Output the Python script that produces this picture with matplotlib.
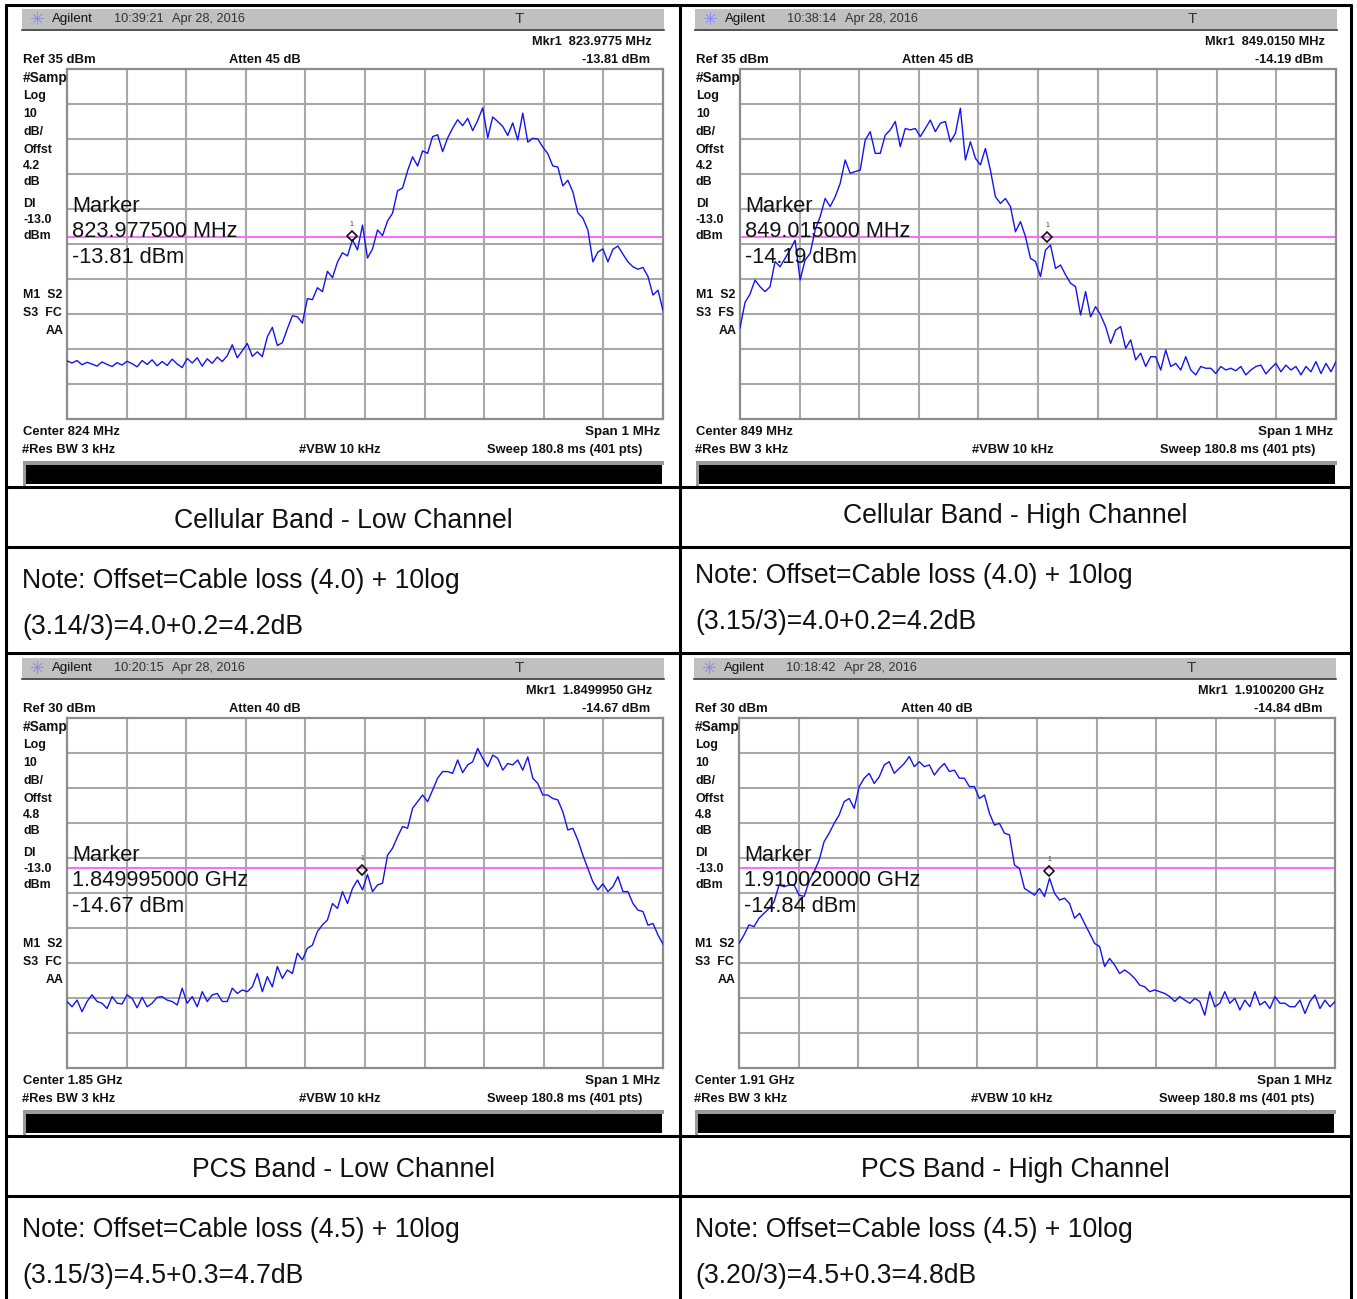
import numpy as np
import matplotlib
matplotlib.use('Agg')
import matplotlib.pyplot as plt
from matplotlib.patches import Rectangle
from matplotlib.transforms import ScaledTranslation

W, H = 1357, 1299
plt.rcParams['font.family'] = ['Liberation Sans', 'DejaVu Sans']

# traces in dBm, evenly spread across the 1 MHz span
trace_cell_low = [
    -48.4, -49.0, -48.3, -49.5, -48.8, -49.3, -49.9, -48.7, -49.4, -50.0,
    -48.9, -49.6, -48.5, -49.2, -50.1, -48.3, -49.4, -48.1, -49.8, -48.6,
    -49.7, -47.9, -49.3, -50.3, -47.7, -49.0, -47.5, -49.9, -47.8, -49.1,
    -47.3, -48.6, -46.9, -43.8, -47.5, -45.5, -43.4, -47.1, -45.8, -47.2,
    -41.5, -38.8, -44.0, -43.2, -39.2, -35.5, -35.8, -37.6, -30.6, -30.9,
    -27.5, -28.6, -22.8, -24.6, -20.2, -17.5, -18.4, -13.8, -16.7, -9.6,
    -19.0, -16.4, -11.0, -12.6, -8.4, -6.2, 0.2, 1.0, 5.9, 9.9,
    7.3, 11.6, 10.9, 15.7, 16.2, 11.4, 15.3, 18.1, 20.5, 18.8,
    20.9, 17.4, 20.3, 23.9, 15.3, 21.3, 20.0, 18.6, 16.0, 19.6,
    14.7, 22.4, 14.1, 15.2, 15.0, 12.7, 10.8, 7.3, 7.0, 1.6,
    3.2, -0.1, -6.1, -7.6, -11.0, -20.1, -17.3, -16.4, -20.1, -16.5,
    -15.6, -17.9, -20.1, -21.5, -22.2, -21.7, -24.3, -29.6, -28.2, -34.0,
]
trace_cell_high = [
    -39.0, -31.7, -29.3, -25.3, -27.2, -28.6, -27.2, -20.0, -21.5, -19.1,
    -16.7, -13.9, -25.3, -19.6, -17.7, -11.0, -7.2, -2.0, -4.3, -1.5,
    2.3, 9.0, 5.2, 5.7, 6.1, 14.7, 17.1, 10.9, 10.9, 16.1,
    17.6, 20.0, 12.8, 18.0, 17.6, 18.0, 15.7, 18.0, 20.4, 17.1,
    19.5, 20.0, 14.2, 16.6, 23.8, 9.0, 14.2, 9.5, 7.6, 12.3,
    6.1, -1.5, -3.4, -2.0, -4.3, -11.5, -8.6, -12.9, -19.1, -20.0,
    -24.3, -16.7, -15.3, -22.0, -21.0, -23.8, -26.2, -27.2, -35.3, -28.6,
    -35.8, -32.9, -35.3, -38.6, -43.4, -39.6, -38.6, -44.8, -42.4, -48.1,
    -46.2, -50.0, -47.2, -47.2, -51.0, -45.3, -50.0, -49.1, -51.0, -47.2,
    -51.0, -52.4, -50.0, -50.5, -50.5, -52.0, -50.0, -51.0, -50.5, -51.2,
    -50.0, -52.4, -51.0, -50.0, -49.6, -52.1, -50.5, -49.1, -51.5, -49.6,
    -51.0, -50.0, -52.4, -50.0, -51.5, -48.6, -52.0, -49.1, -51.5, -48.6,
]
trace_pcs_low = [
    -51.0, -52.5, -50.6, -53.9, -51.0, -49.1, -51.0, -51.5, -53.0, -49.6,
    -51.5, -51.7, -49.1, -50.1, -52.8, -49.8, -52.5, -51.5, -49.8, -49.6,
    -50.6, -51.0, -52.0, -47.2, -51.5, -49.6, -52.5, -48.2, -51.0, -49.1,
    -48.7, -51.0, -51.0, -47.2, -48.7, -47.7, -48.2, -46.8, -43.0, -48.2,
    -43.9, -46.8, -41.0, -44.4, -42.0, -43.0, -37.2, -39.1, -35.8, -34.9,
    -31.0, -29.1, -27.7, -23.0, -24.4, -19.6, -23.0, -18.7, -16.3, -19.1,
    -14.7, -19.6, -17.7, -17.2, -9.2, -7.2, -3.9, -1.0, -1.5, 4.2,
    6.1, 8.0, 6.1, 9.4, 12.8, 14.7, 14.7, 14.2, 18.0, 14.4,
    16.6, 17.5, 21.3, 18.5, 16.1, 19.4, 18.5, 15.1, 17.0, 16.6,
    18.0, 15.1, 18.9, 12.8, 11.3, 8.0, 8.0, 7.0, 6.6, 3.2,
    -2.0, -1.5, -4.9, -9.2, -13.0, -16.8, -19.1, -17.4, -19.6, -18.2,
    -15.3, -19.6, -19.6, -23.0, -24.9, -25.3, -29.2, -28.7, -32.0, -34.6,
]
trace_pcs_high = [
    -34.4, -32.0, -29.1, -29.6, -27.2, -25.8, -24.4, -22.5, -17.7, -18.2,
    -17.7, -17.7, -20.6, -21.0, -16.7, -13.9, -10.6, -5.3, -2.9, -0.1,
    2.3, 6.1, 7.0, 4.2, 10.4, 12.8, 14.2, 11.3, 13.2, 16.6,
    17.5, 14.2, 15.6, 17.0, 19.0, 16.1, 17.5, 16.1, 16.6, 13.7,
    15.6, 17.0, 14.7, 15.1, 12.8, 12.8, 10.4, 10.4, 7.0, 8.0,
    2.8, -0.6, -0.1, -2.9, -3.4, -12.0, -13.0, -18.7, -19.6, -20.6,
    -18.7, -21.0, -15.8, -20.1, -22.0, -21.5, -23.0, -27.2, -25.8, -28.7,
    -31.5, -34.4, -35.3, -41.0, -38.7, -40.6, -43.0, -42.0, -43.0, -44.4,
    -46.3, -46.8, -48.2, -47.7, -48.2, -48.7, -49.6, -51.0, -49.6, -50.6,
    -51.5, -50.1, -51.0, -54.9, -48.2, -52.5, -51.5, -48.2, -51.5, -50.1,
    -53.4, -50.6, -52.5, -48.2, -52.0, -51.0, -53.0, -49.6, -51.5, -51.5,
    -52.5, -52.5, -50.6, -54.4, -51.0, -49.1, -53.0, -50.6, -52.5, -51.0,
]
traces = [trace_cell_low, trace_cell_high, trace_pcs_low, trace_pcs_high]

times = ['10:39:21', '10:38:14', '10:20:15', '10:18:42']
ref_levels = [35, 35, 30, 30]
attens = [45, 45, 40, 40]
offsets = ['4.2', '4.2', '4.8', '4.8']
coupling = ['FC', 'FS', 'FC', 'FC']
centers = ['824 MHz', '849 MHz', '1.85 GHz', '1.91 GHz']
mkr_freqs = ['823.9775 MHz', '849.0150 MHz', '1.8499950 GHz', '1.9100200 GHz']
mkr_long = ['823.977500 MHz', '849.015000 MHz', '1.849995000 GHz', '1.910020000 GHz']
mkr_offsets = [-0.0225, 0.015, -0.005, 0.02]
mkr_levels = [-13.81, -14.19, -14.67, -14.84]
display_line = -13.0
captions = ['Cellular Band - Low Channel', 'Cellular Band - High Channel',
            'PCS Band - Low Channel', 'PCS Band - High Channel']
notes_1 = ['Note: Offset=Cable loss (4.0) + 10log', 'Note: Offset=Cable loss (4.0) + 10log',
           'Note: Offset=Cable loss (4.5) + 10log', 'Note: Offset=Cable loss (4.5) + 10log']
notes_2 = ['(3.14/3)=4.0+0.2=4.2dB', '(3.15/3)=4.0+0.2=4.2dB',
           '(3.15/3)=4.5+0.3=4.7dB', '(3.20/3)=4.5+0.3=4.8dB']

# panel placement in pixels: x shift, y shift, caption centre/y, note x/y
dxs = [0, 673, 0, 672]
dys = [0, 0, 649, 649]
cap_pos = [(343, 521), (1015, 516), (343, 1170), (1015, 1170)]
note_pos = [(22, 581, 627), (695, 576, 622), (22, 1230, 1276), (695, 1230, 1276)]

fig = plt.figure(figsize=(W / 100, H / 100), dpi=100, facecolor='white')

# pixel overlay for the table rules and screen text
ov = fig.add_axes([0, 0, 1, 1], zorder=5)
ov.set_xlim(0, W)
ov.set_ylim(H, 0)
ov.axis('off')
ov.patch.set_alpha(0)


def small(x, y, s, ha='left', bold=True, color='#111111', size=9.3):
    ov.text(x, y + 1, s, ha=ha, va='center', fontsize=size, color=color,
            fontweight='bold' if bold else 'normal')


def draw_panel(i):
    dx, dy = dxs[i], dys[i]
    left, right = 67 + dx, 663 + dx
    top, bottom = 69 + dy, 419 + dy

    ax = fig.add_axes([left / W, 1 - bottom / H, (right - left) / W, (bottom - top) / H], zorder=2)
    ref = ref_levels[i]
    ax.set_xlim(-0.5, 0.5)
    ax.set_ylim(ref - 100, ref)
    ax.set_xticks(np.arange(-0.4, 0.41, 0.1))
    ax.set_yticks(np.arange(ref - 90, ref, 10))
    ax.tick_params(length=0, labelbottom=False, labelleft=False)
    ax.grid(True, color='#a8a8a8', lw=1.5)
    ax.set_axisbelow(True)
    for sp in ax.spines.values():
        sp.set_color('#8c8c8c')
        sp.set_linewidth(1.6)

    ax.axhline(display_line, color='#ff66ff', lw=1.4, zorder=2)
    y = traces[i]
    ax.plot(np.linspace(-0.5, 0.5, len(y)), y, color='#1414f0', lw=1.0, zorder=3)

    # the analyzer draws its diamond a few pixels above the reading
    lift = ax.transData + ScaledTranslation(0, 4 / 100, fig.dpi_scale_trans)
    ax.plot([mkr_offsets[i]], [mkr_levels[i]], marker='D', ms=5.5, mfc='none',
            mec='#111111', mew=1.2, zorder=4, transform=lift)
    ax.annotate('1', (mkr_offsets[i], mkr_levels[i]), xytext=(0, 10), textcoords='offset points',
                ha='center', fontsize=5, color='#444444')

    # header bar
    ov.add_patch(Rectangle((22 + dx, 9 + dy), 642, 20, fc='#c0c0c0', ec='none', zorder=0))
    ov.plot([22 + dx, 664 + dx], [29.5 + dy, 29.5 + dy], color='#222222', lw=1.1)
    ov.plot([37 + dx], [18 + dy], marker=(8, 2, 0), ms=9, mec='#9090e8', mew=0.5)
    small(52 + dx, 18 + dy, 'Agilent', bold=False, size=9.6)
    small(114 + dx, 18 + dy, times[i], bold=False, color='#333333', size=9.2)
    small(172 + dx, 18 + dy, 'Apr 28, 2016', bold=False, color='#333333', size=9.2)
    small(519 + dx, 18 + dy, 'T', ha='center', bold=False, color='#333333', size=11)

    small(652 + dx, 41 + dy, 'Mkr1  ' + mkr_freqs[i], ha='right', size=9.2)
    small(650 + dx, 59 + dy, '%.2f dBm' % mkr_levels[i], ha='right', size=9.2)
    small(23 + dx, 59 + dy, 'Ref %d dBm' % ref, size=9.5)
    small(229 + dx, 59 + dy, 'Atten %d dB' % attens[i])

    side_labels = ['Log', '10', 'dB/', 'Offst', offsets[i], 'dB', 'DI', '-13.0', 'dBm']
    side_y = [95, 113, 131, 149, 165, 181, 203, 219, 235]
    small(23 + dx, 77 + dy, '#Samp', size=9.8)
    for lab, ly in zip(side_labels, side_y):
        small(23 + dx, ly + dy, lab, size=8.9)
    small(23 + dx, 294 + dy, 'M1  S2', size=8.9)
    small(23 + dx, 312 + dy, 'S3  ' + coupling[i], size=8.9)
    small(64 + dx, 330 + dy, 'AA', ha='right', size=8.9)

    small(23 + dx, 431 + dy, 'Center ' + centers[i], size=9.4)
    small(660 + dx, 431 + dy, 'Span 1 MHz', ha='right', size=9.6)
    small(22 + dx, 449 + dy, '#Res BW 3 kHz')
    small(299 + dx, 449 + dy, '#VBW 10 kHz')
    small(642 + dx, 449 + dy, 'Sweep 180.8 ms (401 pts)', ha='right')

    # status bar under the screen
    ov.add_patch(Rectangle((23 + dx, 461 + dy), 641, 25, fc='#9a9a9a', ec='none', zorder=0))
    ov.add_patch(Rectangle((26 + dx, 465 + dy), 638, 21, fc='white', ec='none', zorder=0))
    ov.add_patch(Rectangle((26 + dx, 465 + dy), 636, 19, fc='black', ec='none', zorder=0))

    # pasted marker readout
    for ty, s in zip((206, 231, 257), ('Marker', mkr_long[i], '%.2f dBm' % mkr_levels[i])):
        ov.text(72 + dx, ty + dy, s, fontsize=15.7, va='center', color='#111111')

    cx, cy = cap_pos[i]
    ov.text(cx, cy, captions[i], ha='center', va='center', fontsize=19.2, color='#111111')
    nx, ny1, ny2 = note_pos[i]
    ov.text(nx, ny1, notes_1[i], va='center', fontsize=19.2, color='#111111')
    ov.text(nx, ny2, notes_2[i], va='center', fontsize=19.2, color='#111111')


for i in range(4):
    draw_panel(i)

# table rules
for x in (6, 680, 1351):
    ov.plot([x, x], [4, H], color='black', lw=2.2, solid_capstyle='butt')
for y in (5, 487, 547, 653, 1136, 1196):
    ov.plot([5, 1352], [y, y], color='black', lw=2.2, solid_capstyle='butt')

fig.savefig('out.png', dpi=100, facecolor='white')
